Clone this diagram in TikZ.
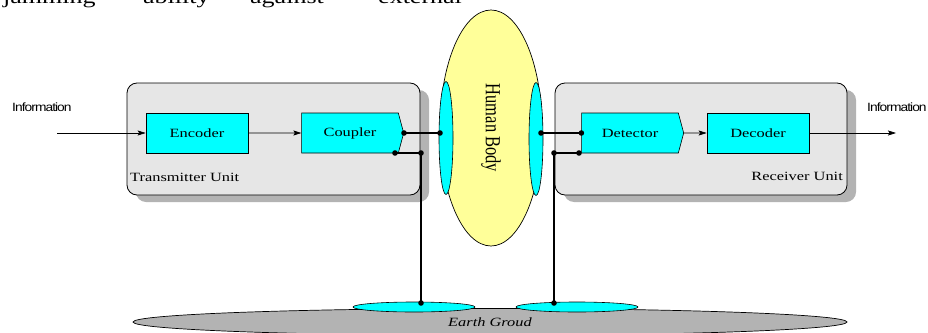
\documentclass[tikz,border=0pt]{standalone}
\usepackage{fontspec}
\usepackage{graphicx}
\setmainfont{Liberation Serif}
\newfontfamily\wideserif{Liberation Serif}[FakeStretch=1.3]
\newfontfamily\infofont{Liberation Sans}[FakeStretch=1.15,LetterSpace=-8]
\usetikzlibrary{shapes.geometric,shapes.symbols,shadows,arrows.meta}
\definecolor{bodyyellow}{HTML}{FFFF99}
\definecolor{unitgray}{HTML}{E6E6E6}
\definecolor{shadegray}{HTML}{B3B3B3}
\definecolor{padcyan}{HTML}{00FFFF}

\begin{document}
\begin{tikzpicture}[x=1pt,y=-1pt,
    unitbox/.style={draw, line width=0.8pt, fill=unitgray, rounded corners=10pt, inner sep=0pt,
        drop shadow={shadow xshift=9pt, shadow yshift=-7pt, fill=shadegray, opacity=1}},
    block/.style={draw, line width=0.6pt, fill=padcyan, inner sep=0pt,
        minimum width=102pt, minimum height=40pt, font=\wideserif\fontsize{12.6}{14}\selectfont},
    pointblock/.style={block, shape=signal, signal to=east, signal from=nowhere, signal pointer angle=150},
    pad/.style={ellipse, draw, line width=0.6pt, fill=padcyan, inner sep=0pt},
    wire/.style={line width=1.6pt},
    flow/.style={line width=0.7pt, -{Stealth[length=8pt,width=5pt,inset=1.5pt]}},
    info/.style={font=\infofont\fontsize{12}{14}\selectfont, inner sep=0pt},
    unitlabel/.style={font=\wideserif\fontsize{12.6}{14}\selectfont, inner sep=0pt},
    pageword/.style={anchor=base west, inner sep=0pt, font=\wideserif\fontsize{20}{22}\selectfont}]
    \useasboundingbox (0,0) rectangle (928,332);

    % cut-off line of the page above
    \node[pageword] (w1) at (3,4) {jamming};
    \node[pageword] (w2) at (143,4) {ability};
    \node[pageword] (w3) at (250,4) {against};
    \node[pageword] (w4) at (378,4) {external};

    % ground
    \node[ellipse, draw, line width=0.7pt, fill=shadegray, inner sep=0pt, minimum width=714pt, minimum height=27pt,
        font=\wideserif\itshape\fontsize{12.6}{14}\selectfont] (gnd) at (490,322) {Earth Groud};
    \node[pad, minimum width=122pt, minimum height=10pt] (gl) at (414,307) {};
    \node[pad, minimum width=122pt, minimum height=10pt] (gr) at (577,307) {};

    % body
    \node[ellipse, draw, line width=0.7pt, fill=bodyyellow, inner sep=0pt, minimum width=102pt, minimum height=236pt] (body) at (491,128) {};
    \node (bodytxt) at (body.center) {\scalebox{1.3}[1]{\rotatebox{-90}{\fontsize{16.5}{18}\selectfont Human Body}}};
    \node[pad, minimum width=14pt, minimum height=113pt] (lpad) at (446,138) {};
    \node[pad, minimum width=14pt, minimum height=113pt] (rpad) at (536,139) {};

    % units
    \node[unitbox, minimum width=293pt, minimum height=112pt] (tx) at (273.5,139) {};
    \node[unitbox, minimum width=292pt, minimum height=112pt] (rx) at (701,139) {};
    \node[unitlabel, anchor=west] (txlbl) at (130,177) {Transmitter Unit};
    \node[unitlabel, anchor=east] (rxlbl) at (843,176) {Receiver Unit};

    \node[block] (enc) at (197,133) {Encoder};
    \node[pointblock] (cpl) at (350,133) {Coupler};
    \node[pointblock] (det) at (630,133) {Detector};
    \node[block] (dec) at (758,133) {Decoder};

    \node[info, anchor=west] (infoin) at (12,107) {Information};
    \node[info, anchor=west] (infoout) at (867,107) {Information};

    \coordinate (in) at (57,133);
    \coordinate (out) at (896,133);
    \draw[flow] (in) -- (enc);
    \draw[flow] (enc) -- (cpl);
    \draw[flow] (det) -- (dec);
    \draw[flow] (dec) -- (out);

    % wires to body and ground
    \coordinate (lt) at (440,133);
    \coordinate (cc) at (395,153);
    \coordinate (lj) at (421,153);
    \coordinate (lg) at (421,303);
    \coordinate (rt) at (541,133);
    \coordinate (dj) at (579,153);
    \coordinate (rj) at (554,153);
    \coordinate (rg) at (554,303);
    \draw[wire] (cpl.east) -- (lt);
    \draw[wire] (cc) -- (lj) -- (lg);
    \draw[wire] (rt) -- (det.west);
    \draw[wire] (dj) -- (rj) -- (rg);
    \foreach \p in {cpl.east, lt, cc, lj, lg, rt, det.west, dj, rj, rg}
        \fill (\p) circle (2.8pt);
\end{tikzpicture}
\end{document}
